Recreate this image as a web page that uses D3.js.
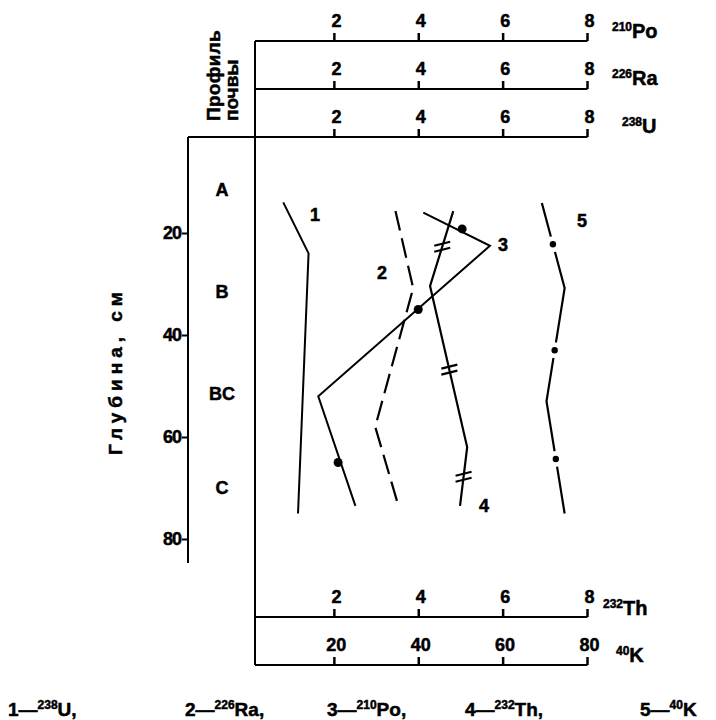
<!DOCTYPE html>
<html><head><meta charset="utf-8">
<script src="https://cdn.jsdelivr.net/npm/d3@7"></script>
<style>body{margin:0;background:#fff}svg{display:block}text{font-family:"Liberation Sans",Arial,sans-serif;font-weight:bold;fill:#000;stroke:#000;stroke-width:0.5px}</style>
</head><body><svg id="c" width="716" height="720"></svg>
<script>
// ---- data ----
const topTicks = [2, 4, 6, 8];
const kTicks = [20, 40, 60, 80];
const depthTicks = [20, 40, 60, 80];
const horizons = ["A", "B", "BC", "C"];
const horizonDepth = [11.5, 31.5, 51.5, 70];

const uDepth = [14, 24, 75];
const uVal = [0.8, 1.4, 1.15];

const raDepth = [15.7, 30.8, 58, 73.5];
const raVal = [3.46, 3.88, 2.98, 3.53];

const poDepth = [16, 22.5, 52, 73.5];
const poVal = [4.12, 5.7, 1.63, 2.51];
const poDotDepth = [19.2, 35, 65];
const poDotVal = [5.04, 4.0, 2.1];

const thDepth = [15.7, 30.4, 62, 73.5];
const thVal = [4.83, 4.28, 5.16, 4.99];
const thMarkDepth = [22.7, 46.8, 67.8];

const kDepth = [14.1, 30.8, 53, 75];
const kVal = [69.3, 74.7, 70.4, 74.7];
const kDotDepth = [22.2, 43, 64.3];

const legend = [["1—", "238", "U,"], ["2—", "226", "Ra,"], ["3—", "210", "Po,"], ["4—", "232", "Th,"], ["5—", "40", "K"]];

// ---- scales ----
const svg = d3.select("#c");
const x = d3.scaleLinear().domain([0, 8]).range([249.5, 587]);
const xk = d3.scaleLinear().domain([0, 80]).range([249.5, 587]);
const y = d3.scaleLinear().domain([0, 80]).range([131, 539]);
const axisLeftX = 255, boxX = 188;

function hAxis(scale, ticks, yPos, isotope, mass, labX, labDy) {
  const g = svg.append("g").attr("transform", `translate(0,${yPos})`)
    .call(d3.axisTop(scale).tickValues(ticks).tickSize(8).tickPadding(6).tickFormat(d3.format("d")));
  g.select(".domain").remove();
  g.selectAll(".tick line").attr("stroke", "#000").attr("stroke-width", 2.5);
  g.selectAll(".tick text").attr("font-size", 18).attr("font-family", "Liberation Sans, Arial").attr("font-weight", "bold")
    .attr("fill", "#000").attr("stroke", "#000").attr("stroke-width", 0.5).attr("dx", 2);
  svg.append("line").attr("x1", axisLeftX).attr("x2", scale.range()[1] + 0.5).attr("y1", yPos).attr("y2", yPos)
    .attr("stroke", "#000").attr("stroke-width", 2);
  const t = svg.append("text").attr("x", labX).attr("y", yPos + labDy).attr("font-size", 20);
  t.append("tspan").attr("font-size", 12).attr("dy", -7).text(mass);
  t.append("tspan").attr("dy", 7).text(isotope);
}
hAxis(x, topTicks, 41, "Po", "210", 612, -3);
hAxis(x, topTicks, 89, "Ra", "226", 612, -4);
hAxis(x, topTicks, 137, "U", "238", 622, -4);
hAxis(x, topTicks, 617, "Th", "232", 603, -2);
hAxis(xk, kTicks, 665, "K", "40", 616, -3);

// main vertical line
svg.append("line").attr("x1", axisLeftX).attr("x2", axisLeftX).attr("y1", 41).attr("y2", 665)
  .attr("stroke", "#000").attr("stroke-width", 2);
// profile box
svg.append("line").attr("x1", boxX).attr("x2", axisLeftX).attr("y1", 137).attr("y2", 137).attr("stroke", "#000").attr("stroke-width", 2);
const ga = svg.append("g").attr("transform", `translate(${boxX},0)`)
  .call(d3.axisLeft(y).tickValues(depthTicks).tickSize(6).tickPadding(1).tickFormat(d3.format("d")));
ga.select(".domain").remove();
ga.selectAll(".tick line").attr("stroke", "#000").attr("stroke-width", 2);
ga.selectAll(".tick text").attr("font-size", 18).attr("font-family", "Liberation Sans, Arial").attr("font-weight", "bold")
  .attr("fill", "#000").attr("stroke", "#000").attr("stroke-width", 0.5).attr("letter-spacing", -1);
svg.append("line").attr("x1", boxX).attr("x2", boxX).attr("y1", 137).attr("y2", 563).attr("stroke", "#000").attr("stroke-width", 2);

horizons.forEach((h, i) => {
  svg.append("text").attr("x", 222).attr("y", y(horizonDepth[i])).attr("dy", "0.35em")
    .attr("text-anchor", "middle").attr("font-size", 18).text(h);
});

// titles
svg.append("text").attr("transform", "translate(122,371) rotate(-90)").attr("text-anchor", "middle")
  .attr("font-size", 19).attr("letter-spacing", 5).text("Глубина,  см");
svg.append("text").attr("transform", "translate(220,121) rotate(-90)").attr("font-size", 19).attr("letter-spacing", 0.3).text("Профиль");
svg.append("text").attr("transform", "translate(238,121) rotate(-90)").attr("font-size", 19).text("почвы");

// curves
function curve(vals, depths, sc) {
  return d3.line().x((d, i) => sc(vals[i])).y((d, i) => y(depths[i]))(vals);
}
function interp(vals, depths, d) {
  for (let i = 0; i < depths.length - 1; i++) {
    if (d >= depths[i] && d <= depths[i + 1]) {
      const t = (d - depths[i]) / (depths[i + 1] - depths[i]);
      return vals[i] + t * (vals[i + 1] - vals[i]);
    }
  }
  return vals[0];
}
svg.append("path").attr("d", curve(uVal, uDepth, x)).attr("fill", "none").attr("stroke", "#000").attr("stroke-width", 2);
svg.append("path").attr("d", curve(raVal, raDepth, x)).attr("fill", "none").attr("stroke", "#000").attr("stroke-width", 2.2)
  .attr("stroke-dasharray", "20,8");
svg.append("path").attr("d", curve(poVal, poDepth, x)).attr("fill", "none").attr("stroke", "#000").attr("stroke-width", 2);
poDotVal.forEach((v, i) => svg.append("circle").attr("cx", x(v)).attr("cy", y(poDotDepth[i])).attr("r", 4.5).attr("fill", "#000"));
svg.append("path").attr("d", curve(thVal, thDepth, x)).attr("fill", "none").attr("stroke", "#000").attr("stroke-width", 2.2);
thMarkDepth.forEach(d => {
  const cx = x(interp(thVal, thDepth, d)), cy = y(d);
  [-3, 3].forEach(o => svg.append("line").attr("x1", cx - 8).attr("x2", cx + 8).attr("y1", cy + o + 2).attr("y2", cy + o - 2)
    .attr("stroke", "#000").attr("stroke-width", 2.2));
});
svg.append("path").attr("d", curve(kVal, kDepth, xk)).attr("fill", "none").attr("stroke", "#000").attr("stroke-width", 2.2);
kDotDepth.forEach(d => {
  const cx = xk(interp(kVal, kDepth, d)), cy = y(d);
  svg.append("circle").attr("cx", cx).attr("cy", cy).attr("r", 8).attr("fill", "#fff");
  svg.append("circle").attr("cx", cx).attr("cy", cy).attr("r", 3.2).attr("fill", "#000");
});

// curve numbers
const nums = [["1", 315, 215], ["2", 382, 273], ["3", 503, 245], ["4", 484, 506], ["5", 582, 221]];
nums.forEach(n => svg.append("text").attr("x", n[1]).attr("y", n[2]).attr("dy", "0.35em").attr("text-anchor", "middle").attr("font-size", 18).text(n[0]));

// legend
const legX = [8, 185, 327, 465, 640];
legend.forEach((l, i) => {
  const t = svg.append("text").attr("x", legX[i]).attr("y", 716).attr("font-size", 19);
  t.append("tspan").text(l[0]);
  t.append("tspan").attr("font-size", 12).attr("dy", -7).text(l[1]);
  t.append("tspan").attr("dy", 7).text(l[2]);
});
</script></body></html>
